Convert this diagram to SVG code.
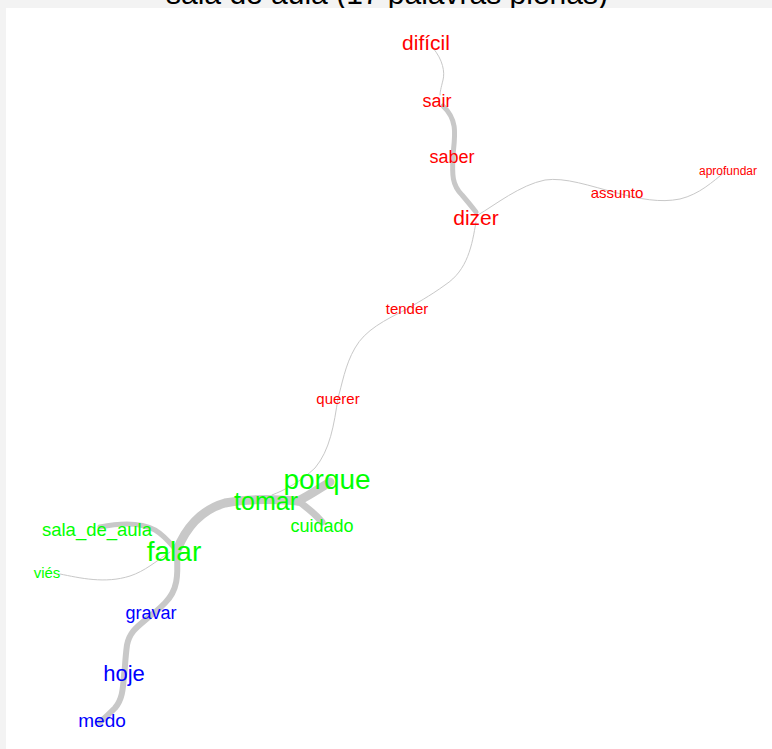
<svg xmlns="http://www.w3.org/2000/svg" width="772" height="749" viewBox="0 0 772 749">
<style>
text{font-family:"Liberation Sans",Arial,sans-serif;text-anchor:middle}
.r{fill:#ff0000}.g{fill:#00ff00}.b{fill:#0000ff}
.e{fill:none;stroke:#c8c8c8;stroke-linecap:round}
.t{stroke-width:1}
</style>
<rect x="0" y="0" width="772" height="749" fill="#f3f3f3"/>
<text x="387" y="4" font-size="30" fill="#000">sala de aula (17 palavras plenas)</text>
<rect x="6" y="8" width="766" height="741" fill="#ffffff"/>
<g id="connectors">
<path class="e t" d="M433 48 C443 60,445 72,443 80 C441 88,440 92,440 95"/>
<path class="e" stroke-width="5" d="M443 106 C458 120,455 135,453 155 C452 175,452 185,462 195 C468 202,472 207,476 212"/>
<path class="e t" d="M478 215 C495 205,520 185,545 180 C565 177,590 186,617 193 C640 199,660 203,680 199 C700 194,712 182,725 172"/>
<path class="e t" d="M476 222 C472 245,468 270,445 285 C430 296,415 304,407 309"/>
<path class="e t" d="M407 309 C385 320,365 330,355 348 C345 365,342 385,338 398"/>
<path class="e t" d="M338 398 C334 425,330 450,315 468 C300 482,285 490,272 495"/>
<path class="e" stroke-width="9" d="M177 550 C185 530,200 510,225 503 C250 498,275 499,298 501"/>
<path class="e" stroke-width="9" d="M298 501 C310 495,320 488,330 482"/>
<path class="e" stroke-width="7" d="M298 501 C308 508,316 515,322 522"/>
<path class="e" stroke-width="5" d="M100 527 C120 523,140 522,155 530 C165 536,170 543,176 550"/>
<path class="e t" d="M60 574 C80 578,105 584,130 576 C145 571,155 562,170 552"/>
<path class="e" stroke-width="6" d="M177 555 C178 575,178 590,165 603 C158 610,153 614,150 616 C140 625,130 630,127 645 C125 660,125 670,124 675 C123 690,122 700,115 708 C110 713,105 718,100 722"/>
</g>
<g id="dificil"><text class="r" x="426" y="50" font-size="21">difícil</text></g>
<g id="sair"><text class="r" x="437" y="107" font-size="18">sair</text></g>
<g id="saber"><text class="r" x="452" y="163" font-size="18">saber</text></g>
<g id="dizer"><text class="r" x="476" y="225" font-size="21">dizer</text></g>
<g id="assunto"><text class="r" x="617" y="198" font-size="15">assunto</text></g>
<g id="aprofundar"><text class="r" x="728" y="175" font-size="12">aprofundar</text></g>
<g id="tender"><text class="r" x="407" y="314" font-size="15">tender</text></g>
<g id="querer"><text class="r" x="338" y="404" font-size="15">querer</text></g>
<g id="porque"><text class="g" x="327" y="489" font-size="28">porque</text></g>
<g id="tomar"><text class="g" x="266" y="510" font-size="25">tomar</text></g>
<g id="cuidado"><text class="g" x="322" y="532" font-size="18">cuidado</text></g>
<g id="falar"><text class="g" x="174" y="561" font-size="28">falar</text></g>
<g id="sala_de_aula"><text class="g" x="97" y="536" font-size="18.5">sala_de_aula</text></g>
<g id="vies"><text class="g" x="47" y="578" font-size="15">viés</text></g>
<g id="gravar"><text class="b" x="151" y="619" font-size="18">gravar</text></g>
<g id="hoje"><text class="b" x="124" y="681" font-size="22">hoje</text></g>
<g id="medo"><text class="b" x="102" y="727" font-size="19">medo</text></g>
</svg>
